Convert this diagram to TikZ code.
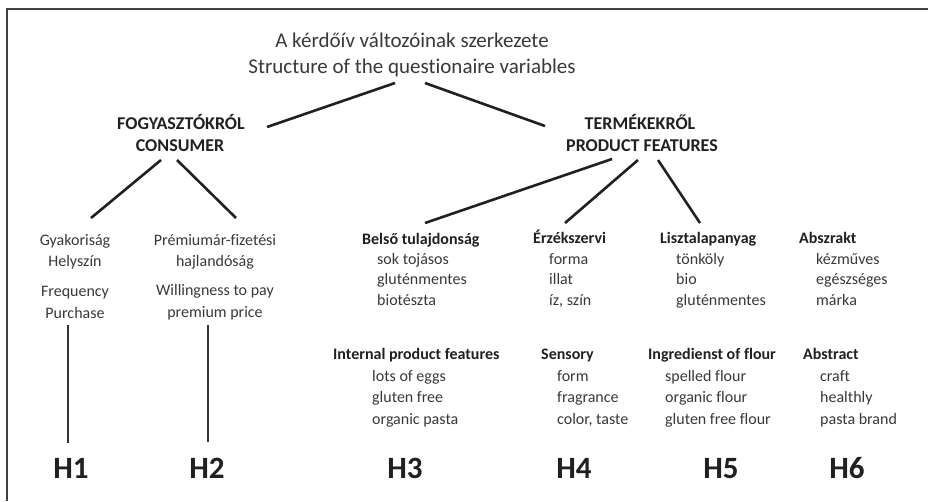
\documentclass[tikz,border=0pt]{standalone}
\usepackage{fontspec}
\setmainfont{Carlito}[Ligatures=NoCommon]
\definecolor{txt}{HTML}{383838}
\definecolor{ink}{HTML}{202020}
\begin{document}
\begin{tikzpicture}[x=1pt,y=-1pt,
  every node/.style={inner sep=0pt,text=txt},
  title/.style={font=\fontsize{21}{26}\selectfont,anchor=base},
  cat/.style={font=\bfseries\fontsize{18}{22}\selectfont,anchor=base,text=ink},
  body/.style={font=\fontsize{16}{20}\selectfont,anchor=base},
  head/.style={font=\bfseries\fontsize{16}{20}\selectfont,anchor=base west,text=ink},
  item/.style={font=\fontsize{16}{20}\selectfont,anchor=base west},
  hyp/.style={font=\bfseries\fontsize{31}{34}\selectfont,anchor=base,text=ink},
  thick line/.style={draw=ink,line width=2.6pt},
  thin line/.style={draw=ink!90,line width=1.6pt},
  frame/.style={draw=black!75,line width=2pt}]
\useasboundingbox (0,0) rectangle (928,501);
% frame
\coordinate (fr-r) at (928,9);
\coordinate (fr-c) at (7,9);
\coordinate (fr-b) at (7,501);
\draw[frame] (fr-r) -- (fr-c) -- (fr-b);
% title
\node[title] (title1) at (412,47.5) {A kérdőív változóinak szerkezete};
\node[title] (title2) at (412,73.5) {Structure of the questionaire variables};
% categories
\node[cat] (cons1) at (181,129) {FOGYASZTÓKRÓL};
\node[cat] (cons2) at (180,151) {CONSUMER};
\node[cat] (prod1) at (640,129) {TERMÉKEKRŐL};
\node[cat] (prod2) at (642,151) {PRODUCT FEATURES};
% H1 H2 texts
\node[body] (h1a1) at (75,245) {Gyakoriság};
\node[body] (h1a2) at (75,266) {Helyszín};
\node[body] (h1b1) at (75,296) {Frequency};
\node[body] (h1b2) at (75,318) {Purchase};
\node[body] (h2a1) at (215,245) {Prémiumár-fizetési};
\node[body] (h2a2) at (215,266) {hajlandóság};
\node[body] (h2b1) at (215,295) {Willingness to pay};
\node[body] (h2b2) at (215,317) {premium price};
% H3
\node[head] (h3hu) at (362,244) {Belső tulajdonság};
\node[item] (h3hu1) at (377,264) {sok tojásos};
\node[item] (h3hu2) at (377,284.5) {gluténmentes};
\node[item] (h3hu3) at (377,305) {biotészta};
\node[head] (h3en) at (333,359) {Internal product features};
\node[item] (h3en1) at (372,381) {lots of eggs};
\node[item] (h3en2) at (372,402) {gluten free};
\node[item] (h3en3) at (372,424) {organic pasta};
% H4
\node[head] (h4hu) at (533,243) {Érzékszervi};
\node[item] (h4hu1) at (549,264) {forma};
\node[item] (h4hu2) at (549,284.5) {illat};
\node[item] (h4hu3) at (549,305) {íz, szín};
\node[head] (h4en) at (541,359) {Sensory};
\node[item] (h4en1) at (557,381) {form};
\node[item] (h4en2) at (557,402) {fragrance};
\node[item] (h4en3) at (557,424) {color, taste};
% H5
\node[head] (h5hu) at (660,243) {Lisztalapanyag};
\node[item] (h5hu1) at (676,264) {tönköly};
\node[item] (h5hu2) at (676,284.5) {bio};
\node[item] (h5hu3) at (676,305) {gluténmentes};
\node[head] (h5en) at (648,359) {Ingredienst of flour};
\node[item] (h5en1) at (665,381) {spelled flour};
\node[item] (h5en2) at (665,402) {organic flour};
\node[item] (h5en3) at (665,424) {gluten free flour};
% H6
\node[head] (h6hu) at (799,243) {Abszrakt};
\node[item] (h6hu1) at (816,264) {kézműves};
\node[item] (h6hu2) at (816,284.5) {egészséges};
\node[item] (h6hu3) at (816,305) {márka};
\node[head] (h6en) at (803,359) {Abstract};
\node[item] (h6en1) at (820,381) {craft};
\node[item] (h6en2) at (820,402) {healthly};
\node[item] (h6en3) at (820,424) {pasta brand};
% hypotheses
\node[hyp] (H1) at (71,478) {H1};
\node[hyp] (H2) at (207,478) {H2};
\node[hyp] (H3) at (405,478) {H3};
\node[hyp] (H4) at (574,478) {H4};
\node[hyp] (H5) at (721,478) {H5};
\node[hyp] (H6) at (847,478) {H6};
% connector end points
\coordinate (t-l) at (395,83);
\coordinate (t-r) at (425,83);
\coordinate (c-in) at (267,127);
\coordinate (p-in) at (545,126);
\coordinate (c-l) at (161,160);
\coordinate (c-r) at (177,160);
\coordinate (h1-in) at (91,218);
\coordinate (h2-in) at (236,218);
\coordinate (p-a) at (612,159);
\coordinate (p-b) at (638,160);
\coordinate (p-c) at (658,160);
\coordinate (h3-in) at (425,223);
\coordinate (h4-in) at (565,223);
\coordinate (h5-in) at (700,223);
\coordinate (h1-t) at (68,325);
\coordinate (h1-b) at (68,443);
\coordinate (h2-t) at (208,325);
\coordinate (h2-b) at (208,442);
% connectors
\draw[thick line] (t-l) -- (c-in);
\draw[thick line] (t-r) -- (p-in);
\draw[thick line] (c-l) -- (h1-in);
\draw[thick line] (c-r) -- (h2-in);
\draw[thick line] (p-a) -- (h3-in);
\draw[thick line] (p-b) -- (h4-in);
\draw[thick line] (p-c) -- (h5-in);
\draw[thin line] (h1-t) -- (h1-b);
\draw[thin line] (h2-t) -- (h2-b);
\end{tikzpicture}
\end{document}
